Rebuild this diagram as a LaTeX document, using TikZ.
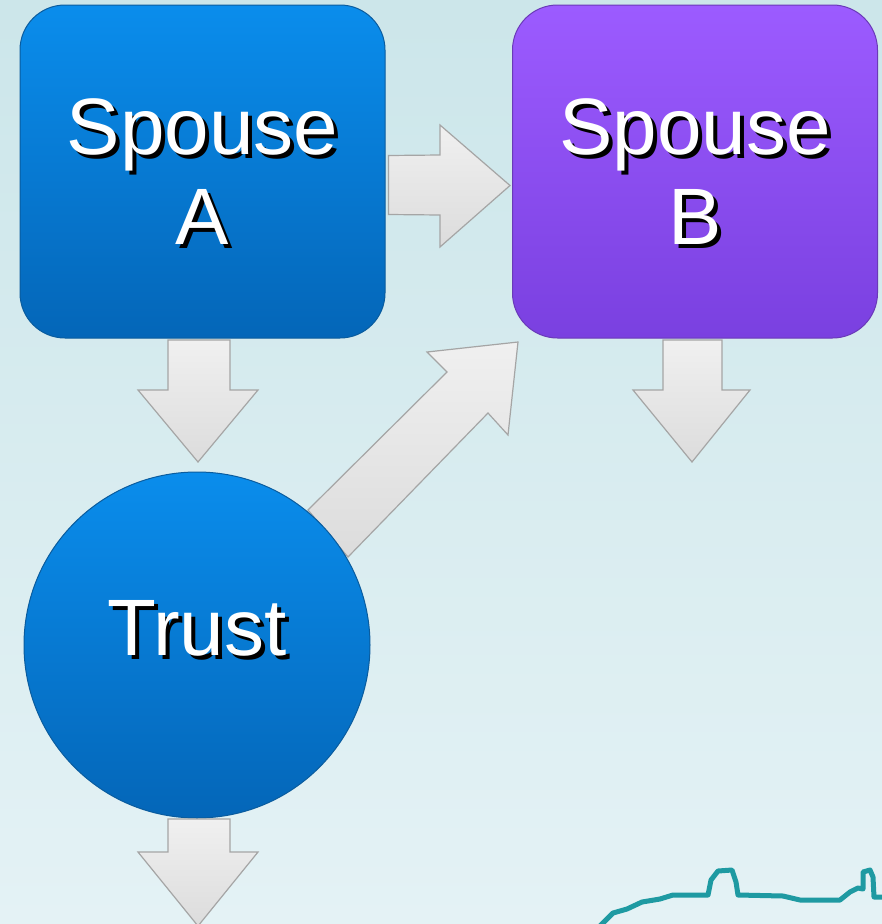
\documentclass[tikz,border=0pt]{standalone}
\usepackage{fontspec}
\setmainfont{Liberation Sans}
\usetikzlibrary{calc}
\definecolor{bgtop}{HTML}{CCE6EA}
\definecolor{bgbot}{HTML}{E4F2F5}
\definecolor{bluetop}{HTML}{0A8DEC}
\definecolor{bluebot}{HTML}{0466B8}
\definecolor{blueedge}{HTML}{0A5C9E}
\definecolor{purptop}{HTML}{9C5BFF}
\definecolor{purpbot}{HTML}{7A40E0}
\definecolor{purpedge}{HTML}{6A3AB8}
\definecolor{arrowtop}{HTML}{F0F0F0}
\definecolor{arrowbot}{HTML}{DCDCDC}
\definecolor{arrowedge}{HTML}{A5A5A5}
\definecolor{teal}{HTML}{1E9AA2}
\tikzset{
  roundbox/.style={rectangle, rounded corners=45pt, minimum width=365pt, minimum height=333pt, inner sep=0pt, line width=1pt},
  bluebox/.style={roundbox, top color=bluetop, bottom color=bluebot, draw=blueedge},
  purpbox/.style={roundbox, top color=purptop, bottom color=purpbot, draw=purpedge},
  bluecircle/.style={circle, minimum size=346pt, inner sep=0pt, top color=bluetop, bottom color=bluebot, draw=blueedge, line width=1pt},
  lbl/.style={font=\fontsize{80}{90}\selectfont, align=center, text=white, inner sep=0pt},
  lblshadow/.style={lbl, text=black, xshift=4pt, yshift=-4pt},
  blockarrow/.style={top color=arrowtop, bottom color=arrowbot, draw=arrowedge, line width=1.2pt, line join=miter},
}
\begin{document}
\begin{tikzpicture}[x=1pt,y=-1pt]
\useasboundingbox (0,0) rectangle (882,924);
\shade[top color=bgtop, bottom color=bgbot] (0,0) rectangle (882,924);

% coastline outline bottom right
\draw[teal, line width=5pt, line join=round, line cap=round]
  (600,926) -- (613,913) -- (627,909) -- (642,902) -- (660,899) -- (673,895)
  -- (708,895) -- (711,880) -- (718,871) -- (732,870) -- (736,882) -- (738,895)
  -- (783,896) -- (800,900) -- (840,900) -- (850,892) -- (858,888) -- (863,889)
  -- (863,872) -- (870,870) -- (873,877) -- (874,897) -- (884,897);

% diagonal arrow (drawn below the circle)
\coordinate (d1) at (308,510);
\draw[blockarrow] (d1) -- (447,372) -- (427,352) -- (518,342) -- (508,435) -- (488,413) -- (348,557) -- cycle;

% nodes
\node[bluebox] (A) at (202.5,171.5) {};
\node[purpbox] (B) at (695,171.5) {};
\node[bluecircle] (T) at (197,645) {};

\node[lblshadow] (Ash) at (A.center) {Spouse\\A};
\node[lbl] (Atxt) at (A.center) {Spouse\\A};
\node[lblshadow] (Bsh) at (B.center) {Spouse\\B};
\node[lbl] (Btxt) at (B.center) {Spouse\\B};
\node[lbl, text=black, xshift=4pt, yshift=13pt] (Tsh) at (T.center) {Trust};
\node[lbl, yshift=17pt] (Ttxt) at (T.center) {Trust};

% right arrow A -> B
\draw[blockarrow] ($(A.east)+(3,-16)$) -- (440,155) -- (440,125) -- ($(B.west)+(-2,14)$)
  -- (440,247) -- (440,215) -- ($(A.east)+(3,43)$) -- cycle;

% down arrow under A
\draw[blockarrow] (168,340) -- (230,340) -- (230,390) -- (258,390) -- (198,462) -- (138,390) -- (168,390) -- cycle;
% down arrow under B
\draw[blockarrow] (663,340) -- (722,340) -- (722,390) -- (750,390) -- (692,462) -- (633,390) -- (663,390) -- cycle;
% down arrow under Trust
\draw[blockarrow] (168,819) -- (230,819) -- (230,852) -- (258,852) -- (198,926) -- (138,852) -- (168,852) -- cycle;
\end{tikzpicture}
\end{document}
